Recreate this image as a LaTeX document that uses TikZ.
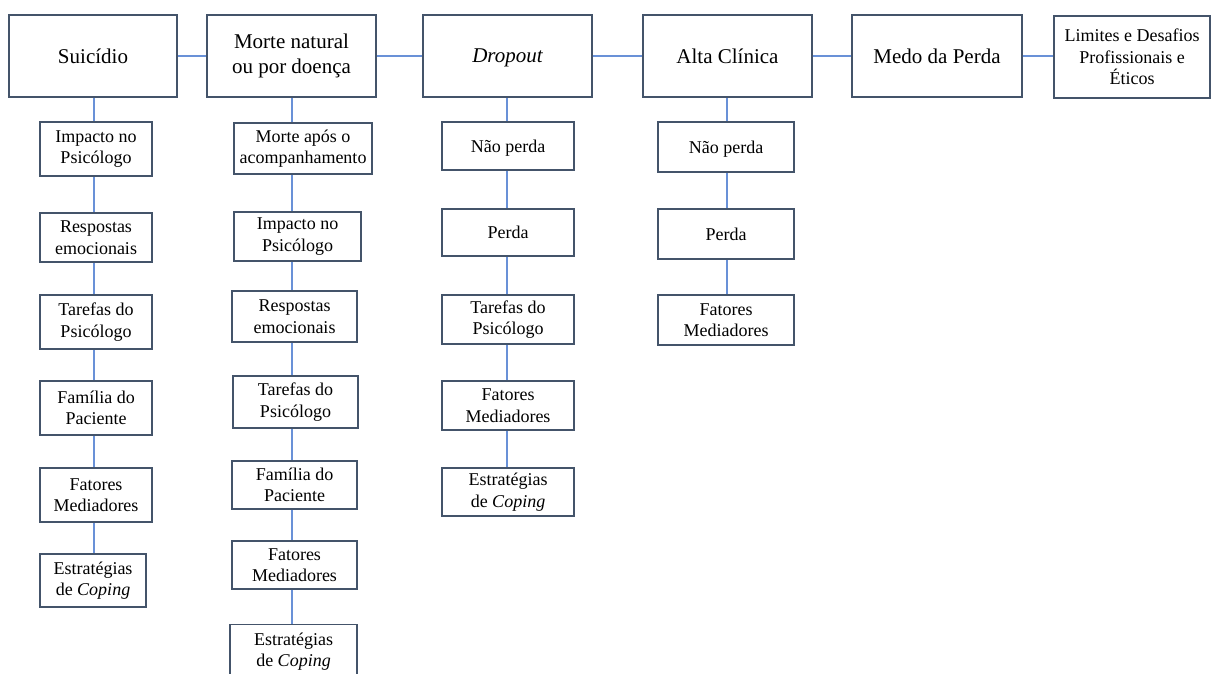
\documentclass[tikz,border=0pt]{standalone}
\usepackage{fontspec}
\setmainfont{Liberation Serif}
\usetikzlibrary{backgrounds}
\definecolor{boxc}{RGB}{68,84,106}
\definecolor{connc}{RGB}{105,145,215}
\newcommand{\nodepth}[1]{\raisebox{0pt}[\height][0pt]{#1}}
\tikzset{
  bx/.style={draw=boxc, line width=1.4pt, fill=white, inner sep=1pt, align=center, text=black},
  top/.style={bx, font=\fontsize{21}{25}\selectfont},
  sub/.style={bx, font=\fontsize{18}{21.6}\selectfont},
  conn/.style={draw=connc, line width=1.5pt}
}
\begin{document}
\begin{tikzpicture}[x=1pt,y=-1pt]
\useasboundingbox (0,0) rectangle (1212,674);
% top row
\node[top, minimum width=168, minimum height=82] (S) at (93,56) {Suicídio};
\node[top, minimum width=169, minimum height=82] (M) at (291.5,56) {Morte natural\\ou por doença};
\node[top, minimum width=169, minimum height=82] (D) at (507.5,56) {\nodepth{\itshape Dropout}};
\node[top, minimum width=169, minimum height=82] (A) at (727.5,56) {Alta Clínica};
\node[top, minimum width=170, minimum height=82] (Me) at (937,56) {Medo da Perda};
\node[sub, minimum width=156, minimum height=82] (L) at (1132,57) {Limites e Desafios\\Profissionais e\\Éticos};
% Suicidio column
\node[sub, minimum width=112, minimum height=54] (s1) at (96,149) {Impacto no\\Psicólogo};
\node[sub, minimum width=112, minimum height=49] (s2) at (96,237.5) {Respostas\\emocionais};
\node[sub, minimum width=112, minimum height=54] (s3) at (96,322) {Tarefas do\\Psicólogo};
\node[sub, minimum width=112, minimum height=54] (s4) at (96,408) {Família do\\Paciente};
\node[sub, minimum width=112, minimum height=54] (s5) at (96,495) {Fatores\\Mediadores};
\node[sub, minimum width=106, minimum height=53] (s6) at (93,580.5) {Estratégias\\de \emph{Coping}};
% Morte column
\node[sub, minimum width=138, minimum height=51] (m1) at (303,148.5) {Morte após o\\acompanhamento};
\node[sub, minimum width=127, minimum height=49] (m2) at (297.5,236.5) {Impacto no\\Psicólogo};
\node[sub, minimum width=125, minimum height=51] (m3) at (294.5,316.5) {Respostas\\emocionais};
\node[sub, minimum width=125, minimum height=52] (m4) at (295.5,402) {Tarefas do\\Psicólogo};
\node[sub, minimum width=125, minimum height=48] (m5) at (294.5,485) {Família do\\Paciente};
\node[sub, minimum width=125, minimum height=48] (m6) at (294.5,565) {Fatores\\Mediadores};
\node[sub, minimum width=127, minimum height=54, anchor=north] (m7) at (293.5,624) {Estratégias\\de \emph{Coping}};
% Dropout column
\node[sub, minimum width=132, minimum height=48] (d1) at (508,146) {\nodepth{Não perda}};
\node[sub, minimum width=132, minimum height=47] (d2) at (508,232.5) {Perda};
\node[sub, minimum width=132, minimum height=49] (d3) at (508,319.5) {Tarefas do\\Psicólogo};
\node[sub, minimum width=132, minimum height=49] (d4) at (508,405.5) {Fatores\\Mediadores};
\node[sub, minimum width=132, minimum height=48] (d5) at (508,492) {Estratégias\\de \emph{Coping}};
% Alta column
\node[sub, minimum width=136, minimum height=50] (a1) at (726,147) {\nodepth{Não perda}};
\node[sub, minimum width=136, minimum height=50] (a2) at (726,234) {Perda};
\node[sub, minimum width=136, minimum height=50] (a3) at (726,320) {Fatores\\Mediadores};
% connectors
\begin{scope}[on background layer]
\fill[white] (0,0) rectangle (1212,674);
\draw[conn] (S.east) -- (M.west);
\draw[conn] (M.east) -- (D.west);
\draw[conn] (D.east) -- (A.west);
\draw[conn] (A.east) -- (Me.west);
\draw[conn] (Me.east) -- (Me.east -| L.west);
\draw[conn] ([xshift=1pt]S.south) -- ([xshift=1pt]S.south |- s6.north);
\draw[conn] ([xshift=0.5pt]M.south) -- ([xshift=0.5pt]M.south |- m7.north);
\draw[conn] ([xshift=-0.5pt]D.south) -- ([xshift=-0.5pt]D.south |- d5.north);
\draw[conn] ([xshift=-0.5pt]A.south) -- ([xshift=-0.5pt]A.south |- a3.north);
\end{scope}
\end{tikzpicture}
\end{document}
